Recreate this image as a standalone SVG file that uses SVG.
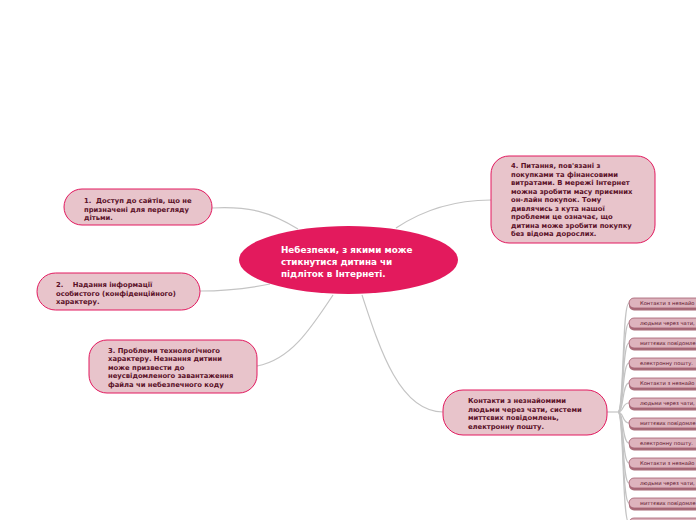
<svg xmlns="http://www.w3.org/2000/svg" width="696" height="520" viewBox="0 0 696 520">
<style>
.bg{fill:#ffffff}
.con{fill:none;stroke:#c4c4c4;stroke-width:1.2}
.node rect{fill:#e8c4cb;stroke:#e2185e;stroke-width:1}
.nt{font-family:"DejaVu Sans",Verdana,sans-serif;font-weight:bold;font-size:6.8px;fill:#5a1028;white-space:pre}
.ct{font-family:"DejaVu Sans",Verdana,sans-serif;font-weight:bold;font-size:8.8px;fill:#ffffff}
.sh{fill:#a86a78}
.sm{fill:#ddb3bd;stroke:#a35d6e;stroke-width:0.8}
.st{font-family:"DejaVu Sans",Verdana,sans-serif;font-size:5.2px;fill:#5a1028}
</style>
<rect class="bg" x="0" y="0" width="696" height="520"/>
<g id="connectors">
<path class="con" d="M212,208 C250,206 270,212 298,229"/>
<path class="con" d="M200,291 C230,291 250,288 270,284"/>
<path class="con" d="M257,366 C290,360 310,330 333,295"/>
<path class="con" d="M396,228 C420,212 450,200 491,200"/>
<path class="con" d="M362,295 C380,350 400,412 443,412"/>
<path class="con" d="M607,412 L618,412"/>
<path class="con" d="M618,412 C624,412 622,303 629,303"/>
<path class="con" d="M618,412 C624,412 622,323 629,323"/>
<path class="con" d="M618,412 C624,412 622,343 629,343"/>
<path class="con" d="M618,412 C624,412 622,363 629,363"/>
<path class="con" d="M618,412 C624,412 622,383 629,383"/>
<path class="con" d="M618,412 C624,412 622,403 629,403"/>
<path class="con" d="M618,412 C624,412 622,423 629,423"/>
<path class="con" d="M618,412 C624,412 622,443 629,443"/>
<path class="con" d="M618,412 C624,412 622,463 629,463"/>
<path class="con" d="M618,412 C624,412 622,483 629,483"/>
<path class="con" d="M618,412 C624,412 622,503 629,503"/>
<path class="con" d="M618,412 C624,412 622,523 629,523"/>
</g>
<g id="center">
<ellipse cx="348.5" cy="260" rx="109.5" ry="34" fill="#e31a5d"/>
<text class="ct" x="281" y="253">Небезпеки, з якими може</text>
<text class="ct" x="281" y="265">стикнутися дитина чи</text>
<text class="ct" x="281" y="277">підліток в Інтернеті.</text>
</g>
<g id="node1" class="node">
<rect x="64" y="189" width="148" height="36" rx="18"/>
<text class="nt" x="84" y="203" xml:space="preserve">1.  Доступ до сайтів, що не</text>
<text class="nt" x="84" y="211.5">призначені для перегляду</text>
<text class="nt" x="84" y="220">дітьми.</text>
</g>
<g id="node2" class="node">
<rect x="37" y="273" width="163" height="37" rx="18.5"/>
<text class="nt" x="56" y="287" xml:space="preserve">2.    Надання інформації</text>
<text class="nt" x="56" y="295.5">особистого (конфіденційного)</text>
<text class="nt" x="56" y="304">характеру.</text>
</g>
<g id="node3" class="node">
<rect x="89" y="340" width="168" height="53" rx="18"/>
<text class="nt" x="108" y="352.5">3. Проблеми технологічного</text>
<text class="nt" x="108" y="361">характеру. Незнання дитини</text>
<text class="nt" x="108" y="369.5">може призвести до</text>
<text class="nt" x="108" y="378">неусвідомленого завантаження</text>
<text class="nt" x="108" y="386.5">файла чи небезпечного коду</text>
</g>
<g id="node4" class="node">
<rect x="491" y="156" width="164" height="87" rx="18"/>
<text class="nt" x="511" y="168">4. Питання, пов'язані з</text>
<text class="nt" x="511" y="176.5">покупками та фінансовими</text>
<text class="nt" x="511" y="185">витратами. В мережі Інтернет</text>
<text class="nt" x="511" y="193.5">можна зробити масу приємних</text>
<text class="nt" x="511" y="202">он-лайн покупок. Тому</text>
<text class="nt" x="511" y="210.5">дивлячись з кута нашої</text>
<text class="nt" x="511" y="219">проблеми це означає, що</text>
<text class="nt" x="511" y="227.5">дитина може зробити покупку</text>
<text class="nt" x="511" y="236">без відома дорослих.</text>
</g>
<g id="node5" class="node">
<rect x="443" y="390" width="164" height="45" rx="20"/>
<text class="nt" x="468" y="403">Контакти з незнайомими</text>
<text class="nt" x="468" y="411.5">людьми через чати, системи</text>
<text class="nt" x="468" y="420">миттєвих повідомлень,</text>
<text class="nt" x="468" y="428.5">електронну пошту.</text>
</g>
<g id="child1"><rect class="sh" x="629" y="299" width="80" height="11.5" rx="5"/><rect class="sm" x="629" y="298" width="80" height="10" rx="5"/><text class="st" x="640" y="305">Контакти з незнайо</text></g>
<g id="child2"><rect class="sh" x="629" y="319" width="80" height="11.5" rx="5"/><rect class="sm" x="629" y="318" width="80" height="10" rx="5"/><text class="st" x="640" y="325">людьми через чати,</text></g>
<g id="child3"><rect class="sh" x="629" y="339" width="80" height="11.5" rx="5"/><rect class="sm" x="629" y="338" width="80" height="10" rx="5"/><text class="st" x="640" y="345">миттєвих повідомле</text></g>
<g id="child4"><rect class="sh" x="629" y="359" width="80" height="11.5" rx="5"/><rect class="sm" x="629" y="358" width="80" height="10" rx="5"/><text class="st" x="640" y="365">електронну пошту.</text></g>
<g id="child5"><rect class="sh" x="629" y="379" width="80" height="11.5" rx="5"/><rect class="sm" x="629" y="378" width="80" height="10" rx="5"/><text class="st" x="640" y="385">Контакти з незнайо</text></g>
<g id="child6"><rect class="sh" x="629" y="399" width="80" height="11.5" rx="5"/><rect class="sm" x="629" y="398" width="80" height="10" rx="5"/><text class="st" x="640" y="405">людьми через чати,</text></g>
<g id="child7"><rect class="sh" x="629" y="419" width="80" height="11.5" rx="5"/><rect class="sm" x="629" y="418" width="80" height="10" rx="5"/><text class="st" x="640" y="425">миттєвих повідомле</text></g>
<g id="child8"><rect class="sh" x="629" y="439" width="80" height="11.5" rx="5"/><rect class="sm" x="629" y="438" width="80" height="10" rx="5"/><text class="st" x="640" y="445">електронну пошту.</text></g>
<g id="child9"><rect class="sh" x="629" y="459" width="80" height="11.5" rx="5"/><rect class="sm" x="629" y="458" width="80" height="10" rx="5"/><text class="st" x="640" y="465">Контакти з незнайо</text></g>
<g id="child10"><rect class="sh" x="629" y="479" width="80" height="11.5" rx="5"/><rect class="sm" x="629" y="478" width="80" height="10" rx="5"/><text class="st" x="640" y="485">людьми через чати,</text></g>
<g id="child11"><rect class="sh" x="629" y="499" width="80" height="11.5" rx="5"/><rect class="sm" x="629" y="498" width="80" height="10" rx="5"/><text class="st" x="640" y="505">миттєвих повідомле</text></g>
<g id="child12"><rect class="sh" x="629" y="519" width="80" height="11.5" rx="5"/><rect class="sm" x="629" y="518" width="80" height="10" rx="5"/></g>
</svg>
